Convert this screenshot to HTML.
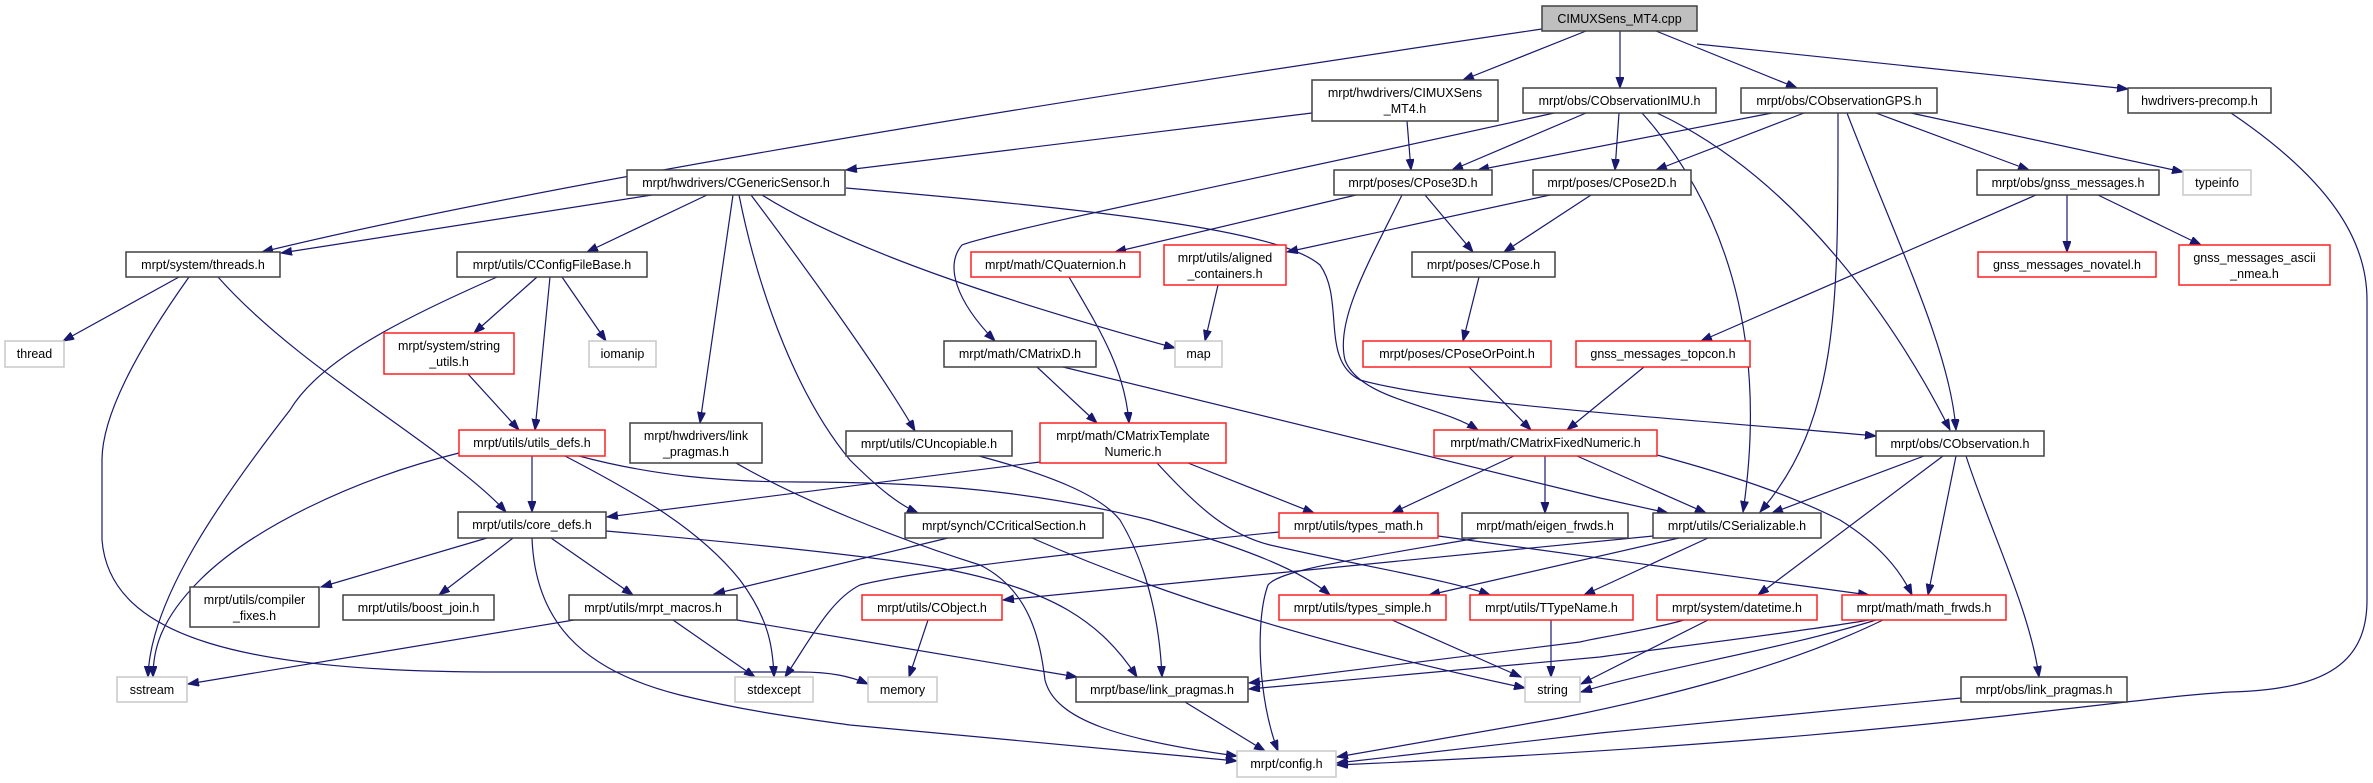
<!DOCTYPE html>
<html><head><meta charset="utf-8"><style>
html,body{margin:0;padding:0;background:#fff;}
svg{display:block;}
text{font-family:"Liberation Sans",sans-serif;font-size:12.5px;fill:#000;text-anchor:middle;}
.n rect{fill:#fff;stroke:#404040;stroke-width:1.5;}
.r rect{fill:#fff;stroke:#ff2020;stroke-width:1.5;}
.g rect{fill:#fff;stroke:#c8c8c8;stroke-width:1.5;}
.e path{fill:none;stroke:#191970;stroke-width:1.2;marker-end:url(#a);}
</style></head><body>
<svg width="2373" height="783" viewBox="0 0 2373 783" xmlns="http://www.w3.org/2000/svg">
<defs><marker id="a" markerUnits="userSpaceOnUse" markerWidth="12" markerHeight="9" refX="11" refY="4" orient="auto"><path d="M0,0 L11,4 L0,8 z" fill="#191970" stroke="#191970"/></marker></defs>
<g class="e">
<path d="M1542,29 C1200,80 600,170 262,252"/>
<path d="M1586,31 L1463,80"/>
<path d="M1620,31 L1620,88"/>
<path d="M1656,31 L1797,88"/>
<path d="M1697,44 L2128,89"/>
<path d="M1312,113 L846,170"/>
<path d="M1407,121 L1411,170"/>
<path d="M1586,113 L1452,170"/>
<path d="M1619,113 L1615,170"/>
<path d="M1554,113 C1300,170 1000,230 962,245 C945,265 955,300 995,341"/>
<path d="M1642,113 C1720,200 1770,330 1743,512"/>
<path d="M1657,113 C1800,180 1900,330 1950,430"/>
<path d="M1772,113 L1478,170"/>
<path d="M1804,113 L1656,170"/>
<path d="M1838,113 C1838,300 1840,420 1760,512"/>
<path d="M1847,113 C1900,250 1950,350 1956,430"/>
<path d="M1876,113 L2029,170"/>
<path d="M1911,113 L2183,172"/>
<path d="M2231,113 C2330,180 2367,240 2367,300 L2367,600 C2367,660 2330,690 2230,692 C2100,700 1900,740 1337,765"/>
<path d="M652,195 L281,253"/>
<path d="M707,195 L587,252"/>
<path d="M733,195 L700,423"/>
<path d="M739,195 C760,300 800,400 850,460 C880,490 900,505 918,513"/>
<path d="M751,195 C800,260 880,370 915,431"/>
<path d="M762,195 C850,250 1000,300 1175,348"/>
<path d="M846,188 C1100,210 1280,230 1320,265 C1345,300 1320,360 1360,380 C1450,405 1700,420 1876,436"/>
<path d="M179,277 L63,341"/>
<path d="M218,277 C300,370 450,450 506,512"/>
<path d="M189,277 C130,360 102,420 102,460 L102,540 C110,640 250,672 500,672 L800,672 C830,672 850,676 868,684"/>
<path d="M497,277 C400,320 320,360 290,410 C220,500 150,600 148,677"/>
<path d="M537,277 L474,333"/>
<path d="M550,277 L535,430"/>
<path d="M562,277 L606,341"/>
<path d="M468,374 L519,430"/>
<path d="M532,456 L532,512"/>
<path d="M459,453 C350,480 250,530 200,580 C160,620 153,650 153,677"/>
<path d="M565,456 C640,495 700,530 740,580 C770,620 773,650 774,677"/>
<path d="M579,456 C650,475 720,482 800,482 C950,482 1050,495 1150,520 C1250,550 1300,570 1330,595"/>
<path d="M736,463 C800,500 900,540 980,565 C1030,590 1040,640 1045,680 C1055,720 1120,740 1237,756"/>
<path d="M979,456 C1050,475 1100,495 1120,520 C1150,570 1160,630 1162,677"/>
<path d="M1040,462 L607,517"/>
<path d="M1188,463 L1314,513"/>
<path d="M1157,463 C1200,510 1230,535 1270,545 C1380,570 1450,580 1490,595"/>
<path d="M1514,456 L1392,513"/>
<path d="M1545,456 L1545,513"/>
<path d="M1577,456 L1706,513"/>
<path d="M1657,455 C1750,480 1800,500 1840,520 C1880,545 1900,570 1912,595"/>
<path d="M1037,367 L1097,423"/>
<path d="M1063,367 L1600,498 L1668,513"/>
<path d="M1069,277 C1100,330 1125,370 1129,423"/>
<path d="M1218,285 L1205,341"/>
<path d="M1356,195 L1115,252"/>
<path d="M1425,195 L1473,252"/>
<path d="M1402,195 C1370,260 1335,320 1345,360 C1360,400 1440,405 1478,430"/>
<path d="M1550,195 L1287,252"/>
<path d="M1591,195 L1504,252"/>
<path d="M1479,277 L1463,341"/>
<path d="M1469,367 L1531,430"/>
<path d="M1644,367 L1567,430"/>
<path d="M2036,195 L1701,341"/>
<path d="M2067,195 L2067,252"/>
<path d="M2098,195 L2201,245"/>
<path d="M1924,456 L1772,513"/>
<path d="M1943,456 L1758,595"/>
<path d="M1956,456 L1928,595"/>
<path d="M1966,456 C1990,530 2030,610 2039,677"/>
<path d="M487,538 L321,587"/>
<path d="M513,538 L439,595"/>
<path d="M551,538 L633,595"/>
<path d="M606,531 C800,548 900,560 950,570 C1050,590 1100,620 1137,677"/>
<path d="M532,538 C535,620 580,670 680,695 C750,712 800,718 850,725 C1000,740 1150,752 1237,761"/>
<path d="M574,620 L188,684"/>
<path d="M673,620 L755,677"/>
<path d="M737,620 L1077,677"/>
<path d="M948,538 L714,594"/>
<path d="M1032,538 C1150,590 1300,640 1525,688"/>
<path d="M1279,532 C1000,560 900,575 860,585 C830,600 810,640 785,677"/>
<path d="M1438,536 L1869,595"/>
<path d="M1478,538 C1350,560 1280,570 1268,585 C1255,620 1258,700 1278,751"/>
<path d="M1653,536 L1003,600"/>
<path d="M1679,538 L1429,595"/>
<path d="M1708,538 L1584,595"/>
<path d="M928,620 L909,677"/>
<path d="M1392,620 L1521,677"/>
<path d="M1551,620 L1551,677"/>
<path d="M1684,620 C1650,630 1600,637 1580,642 L1249,683"/>
<path d="M1708,620 L1581,684"/>
<path d="M1869,620 C1800,632 1650,650 1600,657 L1249,689"/>
<path d="M1876,620 C1780,650 1650,670 1581,692"/>
<path d="M1883,620 C1780,670 1650,700 1560,718 L1337,757"/>
<path d="M1961,698 L1600,733 L1337,763"/>
<path d="M1185,702 L1265,751"/>
</g>
<g class="g"><rect x="1542" y="6" width="155" height="25" style="fill:#bfbfbf;stroke:#404040"/><text x="1619.5" y="23">CIMUXSens_MT4.cpp</text></g>
<g class="n"><rect x="1312" y="80" width="186" height="41"/><text x="1405" y="97">mrpt/hwdrivers/CIMUXSens</text><text x="1405" y="113">_MT4.h</text></g>
<g class="n"><rect x="1523" y="88" width="193" height="25"/><text x="1619.5" y="105">mrpt/obs/CObservationIMU.h</text></g>
<g class="n"><rect x="1741" y="88" width="196" height="25"/><text x="1839" y="105">mrpt/obs/CObservationGPS.h</text></g>
<g class="n"><rect x="2128" y="88" width="143" height="25"/><text x="2199.5" y="105">hwdrivers-precomp.h</text></g>
<g class="n"><rect x="627" y="170" width="218" height="25"/><text x="736" y="187">mrpt/hwdrivers/CGenericSensor.h</text></g>
<g class="n"><rect x="1334" y="170" width="158" height="25"/><text x="1413" y="187">mrpt/poses/CPose3D.h</text></g>
<g class="n"><rect x="1533" y="170" width="158" height="25"/><text x="1612" y="187">mrpt/poses/CPose2D.h</text></g>
<g class="n"><rect x="1977" y="170" width="182" height="25"/><text x="2068" y="187">mrpt/obs/gnss_messages.h</text></g>
<g class="g"><rect x="2183" y="170" width="68" height="25"/><text x="2217" y="187">typeinfo</text></g>
<g class="n"><rect x="126" y="252" width="154" height="25"/><text x="203" y="269">mrpt/system/threads.h</text></g>
<g class="n"><rect x="457" y="252" width="190" height="25"/><text x="552" y="269">mrpt/utils/CConfigFileBase.h</text></g>
<g class="r"><rect x="971" y="252" width="169" height="25"/><text x="1055.5" y="269">mrpt/math/CQuaternion.h</text></g>
<g class="r"><rect x="1164" y="245" width="122" height="40"/><text x="1225" y="262">mrpt/utils/aligned</text><text x="1225" y="278">_containers.h</text></g>
<g class="n"><rect x="1412" y="252" width="143" height="25"/><text x="1483.5" y="269">mrpt/poses/CPose.h</text></g>
<g class="r"><rect x="1978" y="252" width="178" height="25"/><text x="2067" y="269">gnss_messages_novatel.h</text></g>
<g class="r"><rect x="2179" y="245" width="151" height="40"/><text x="2254.5" y="262">gnss_messages_ascii</text><text x="2254.5" y="278">_nmea.h</text></g>
<g class="g"><rect x="5" y="341" width="59" height="26"/><text x="34.5" y="358">thread</text></g>
<g class="r"><rect x="384" y="333" width="130" height="41"/><text x="449" y="350">mrpt/system/string</text><text x="449" y="366">_utils.h</text></g>
<g class="g"><rect x="589" y="341" width="67" height="26"/><text x="622.5" y="358">iomanip</text></g>
<g class="g"><rect x="1175" y="341" width="47" height="26"/><text x="1198.5" y="358">map</text></g>
<g class="n"><rect x="944" y="341" width="152" height="26"/><text x="1020" y="358">mrpt/math/CMatrixD.h</text></g>
<g class="r"><rect x="1363" y="341" width="188" height="26"/><text x="1457" y="358">mrpt/poses/CPoseOrPoint.h</text></g>
<g class="r"><rect x="1576" y="341" width="174" height="26"/><text x="1663" y="358">gnss_messages_topcon.h</text></g>
<g class="r"><rect x="459" y="430" width="146" height="26"/><text x="532" y="447">mrpt/utils/utils_defs.h</text></g>
<g class="n"><rect x="630" y="423" width="132" height="40"/><text x="696" y="440">mrpt/hwdrivers/link</text><text x="696" y="456">_pragmas.h</text></g>
<g class="n"><rect x="846" y="431" width="166" height="25"/><text x="929" y="448">mrpt/utils/CUncopiable.h</text></g>
<g class="r"><rect x="1040" y="423" width="186" height="40"/><text x="1133" y="440">mrpt/math/CMatrixTemplate</text><text x="1133" y="456">Numeric.h</text></g>
<g class="r"><rect x="1434" y="430" width="223" height="26"/><text x="1545.5" y="447">mrpt/math/CMatrixFixedNumeric.h</text></g>
<g class="n"><rect x="1876" y="431" width="168" height="25"/><text x="1960" y="448">mrpt/obs/CObservation.h</text></g>
<g class="n"><rect x="458" y="512" width="148" height="26"/><text x="532" y="529">mrpt/utils/core_defs.h</text></g>
<g class="n"><rect x="905" y="513" width="198" height="25"/><text x="1004" y="530">mrpt/synch/CCriticalSection.h</text></g>
<g class="r"><rect x="1279" y="513" width="159" height="25"/><text x="1358.5" y="530">mrpt/utils/types_math.h</text></g>
<g class="n"><rect x="1462" y="513" width="166" height="25"/><text x="1545" y="530">mrpt/math/eigen_frwds.h</text></g>
<g class="n"><rect x="1653" y="513" width="168" height="25"/><text x="1737" y="530">mrpt/utils/CSerializable.h</text></g>
<g class="n"><rect x="190" y="587" width="129" height="40"/><text x="254.5" y="604">mrpt/utils/compiler</text><text x="254.5" y="620">_fixes.h</text></g>
<g class="n"><rect x="343" y="595" width="151" height="25"/><text x="418.5" y="612">mrpt/utils/boost_join.h</text></g>
<g class="n"><rect x="569" y="595" width="168" height="25"/><text x="653" y="612">mrpt/utils/mrpt_macros.h</text></g>
<g class="r"><rect x="862" y="595" width="140" height="25"/><text x="932" y="612">mrpt/utils/CObject.h</text></g>
<g class="r"><rect x="1279" y="595" width="167" height="25"/><text x="1362.5" y="612">mrpt/utils/types_simple.h</text></g>
<g class="r"><rect x="1470" y="595" width="163" height="25"/><text x="1551.5" y="612">mrpt/utils/TTypeName.h</text></g>
<g class="r"><rect x="1657" y="595" width="160" height="25"/><text x="1737" y="612">mrpt/system/datetime.h</text></g>
<g class="r"><rect x="1842" y="595" width="164" height="25"/><text x="1924" y="612">mrpt/math/math_frwds.h</text></g>
<g class="g"><rect x="117" y="677" width="70" height="25"/><text x="152" y="694">sstream</text></g>
<g class="g"><rect x="735" y="677" width="78" height="25"/><text x="774" y="694">stdexcept</text></g>
<g class="g"><rect x="868" y="677" width="69" height="25"/><text x="902.5" y="694">memory</text></g>
<g class="n"><rect x="1076" y="677" width="172" height="25"/><text x="1162" y="694">mrpt/base/link_pragmas.h</text></g>
<g class="g"><rect x="1525" y="677" width="55" height="25"/><text x="1552.5" y="694">string</text></g>
<g class="n"><rect x="1961" y="677" width="166" height="25"/><text x="2044" y="694">mrpt/obs/link_pragmas.h</text></g>
<g class="g"><rect x="1237" y="751" width="99" height="26"/><text x="1286.5" y="768">mrpt/config.h</text></g>
</svg>
</body></html>
